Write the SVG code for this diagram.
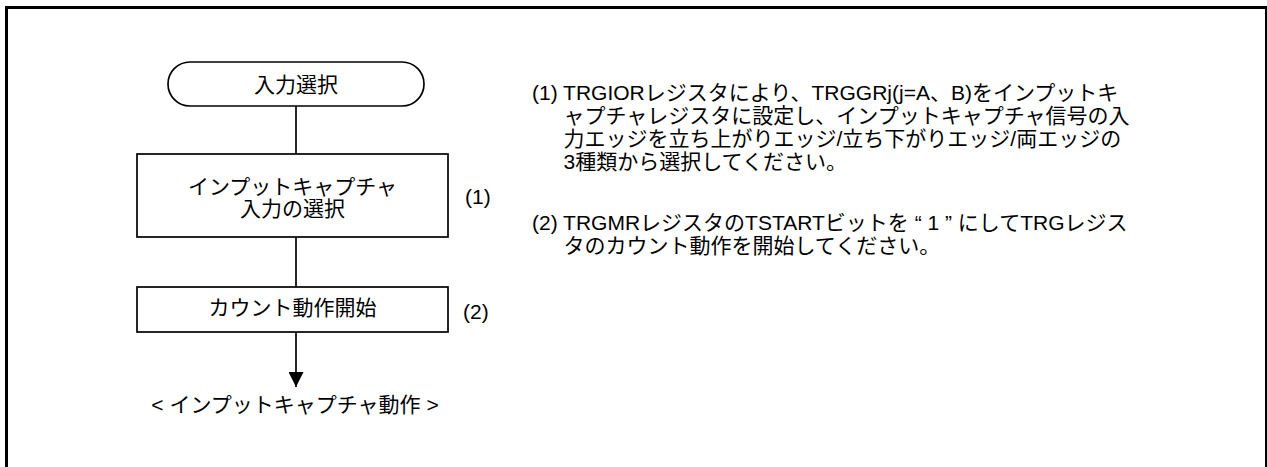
<svg xmlns="http://www.w3.org/2000/svg" width="1267" height="467" viewBox="0 0 1267 467">
  <style>
    .t { font-family: "Liberation Sans", "Noto Sans CJK JP", sans-serif; font-size: 21px; fill: #000; }
    .c { text-anchor: middle; }
    .shape { fill: #fff; stroke: #000; stroke-width: 1.7; }
    .conn { stroke: #000; stroke-width: 1.7; fill: none; }
  </style>
  <defs>
    <marker id="arrow" markerWidth="17" markerHeight="15" refX="17" refY="8.5" orient="auto" markerUnits="userSpaceOnUse" viewBox="0 0 17 17">
      <path d="M0,0 L17,8.5 L0,17 Z" fill="#000"/>
    </marker>
  </defs>
  <rect x="0" y="0" width="1267" height="467" fill="#fff"/>
  <rect x="6.5" y="7.5" width="1260" height="470" fill="none" stroke="#000" stroke-width="3"/>

  <g id="connectors">
    <line class="conn" x1="296" y1="106" x2="296" y2="154"/>
    <line class="conn" x1="296" y1="237" x2="296" y2="287"/>
    <line class="conn" x1="296" y1="332" x2="296" y2="387" marker-end="url(#arrow)"/>
  </g>

  <g id="node-start">
    <rect class="shape" x="168" y="62" width="256" height="44" rx="22" ry="22"/>
    <text class="t c" x="296" y="91.5">入力選択</text>
  </g>

  <g id="node-select">
    <rect class="shape" x="137" y="154" width="311" height="83"/>
    <text class="t c" x="292.5" y="194">インプットキャプチャ</text>
    <text class="t c" x="292.5" y="215.5">入力の選択</text>
  </g>
  <text class="t" x="465" y="204">(1)</text>

  <g id="node-count">
    <rect class="shape" x="137" y="287" width="311" height="45"/>
    <text class="t c" x="292.5" y="315">カウント動作開始</text>
  </g>
  <text class="t" x="463" y="319">(2)</text>

  <g id="node-end">
    <text class="t c" x="295" y="412">&lt; インプットキャプチャ動作 &gt;</text>
  </g>

  <g id="notes">
    <text class="t" x="532" y="100">(1) TRGIORレジスタにより、TRGGRj(j=A、B)をインプットキ</text>
    <text class="t" x="563.5" y="123">ャプチャレジスタに設定し、インプットキャプチャ信号の入</text>
    <text class="t" x="563.5" y="146">力エッジを立ち上がりエッジ/立ち下がりエッジ/両エッジの</text>
    <text class="t" x="563.5" y="169">3種類から選択してください。</text>
    <text class="t" x="532" y="230">(2) TRGMRレジスタのTSTARTビットを “ 1 ” にしてTRGレジス</text>
    <text class="t" x="563.5" y="253">タのカウント動作を開始してください。</text>
  </g>
</svg>
